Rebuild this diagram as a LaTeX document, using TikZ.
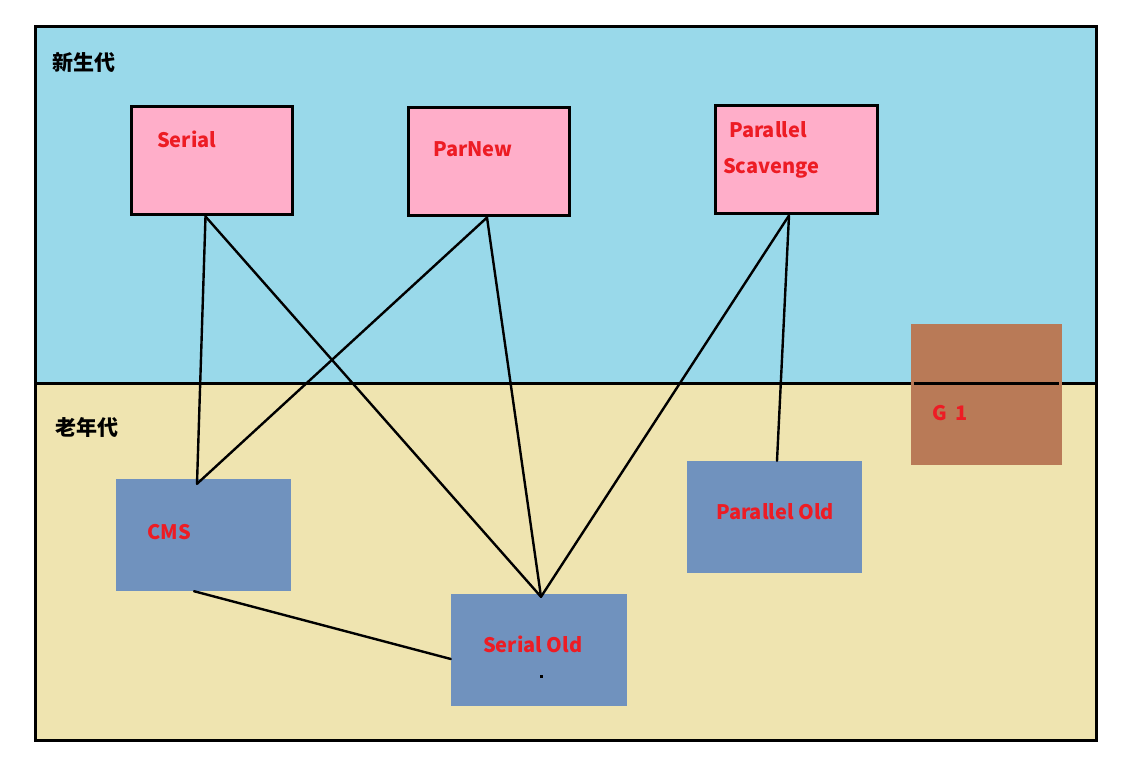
\documentclass[tikz,border=0pt]{standalone}
\usepackage{fontspec}
\newfontfamily\cjk{Noto Sans CJK SC}
\usetikzlibrary{calc}
\definecolor{younggen}{HTML}{99D9EA}
\definecolor{oldgen}{HTML}{EFE4B0}
\definecolor{youngpink}{HTML}{FFAEC9}
\definecolor{oldblue}{HTML}{7092BE}
\definecolor{gonebrown}{HTML}{B97A57}
\definecolor{gcred}{HTML}{ED1C24}
\tikzset{
  youngbox/.style={draw=black,line width=3pt,fill=youngpink,inner sep=0pt},
  oldbox/.style={fill=oldblue,inner sep=0pt},
  gclabel/.style={text=gcred,inner sep=0pt,anchor=base west,font=\cjk\bfseries\fontsize{20}{24}\selectfont},
  genlabel/.style={inner sep=0pt,anchor=base west,font=\cjk\bfseries\fontsize{21}{25}\selectfont},
  link/.style={line width=2.4pt,line cap=round}
}

\begin{document}
\begin{tikzpicture}[x=1pt,y=-1pt]
\useasboundingbox[fill=white] (0,0) rectangle (1127,767);
% generations
\fill[younggen] (35,27) rectangle (1096,383);
\fill[oldgen] (35,383) rectangle (1096,740);
\draw[line width=3pt] (35,27) rectangle (1096,740);
\draw[line width=3pt] (35,383) -- (1096,383);
\node[genlabel] (young) at (52,71) {新生代};
\node[genlabel] (old) at (55,435) {老年代};

% collectors
\node[youngbox,minimum width=161pt,minimum height=108pt] (serial) at (211.5,161) {};
\node[youngbox,minimum width=161pt,minimum height=108pt] (parnew) at (488.5,162) {};
\node[youngbox,minimum width=162pt,minimum height=108pt] (pscav) at (796,160) {};
\node[oldbox,minimum width=175pt,minimum height=112pt] (cms) at (203.5,535) {};
\node[oldbox,minimum width=176pt,minimum height=112pt] (serialold) at (539,650) {};
\node[oldbox,minimum width=175pt,minimum height=112pt] (parold) at (774.5,517) {};
\node[fill=gonebrown,inner sep=0pt,minimum width=151pt,minimum height=141pt] (gone) at (986.5,394.5) {};
\draw[line width=3pt] ($(gone.west)+(3,-11.5)$) -- ($(gone.east)+(-3,-11.5)$);

\node[gclabel] at (157,148) {Serial};
\node[gclabel] at (433,157) {ParNew};
\node[gclabel] at (729,138) {Parallel};
\node[gclabel] at (723,174) {Scavenge};
\node[gclabel] at (147,539) {CMS};
\node[gclabel] at (483,652) {Serial Old};
\node[gclabel] at (716,519) {Parallel Old};
\node[gclabel] at (932,420) {G\hspace{9pt}1};
\fill (540,675) rectangle (543,678);

% connectors
\coordinate (serial-s) at ($(serial.south)+(-6,0)$);
\coordinate (parnew-s) at ($(parnew.south)+(-1.5,0)$);
\coordinate (pscav-s) at ($(pscav.south)+(-7,0)$);
\coordinate (cms-n) at ($(cms.north)+(-6.5,5)$);
\coordinate (cms-s) at ($(cms.south)+(-9.5,0)$);
\coordinate (serialold-n) at ($(serialold.north)+(2,3)$);
\coordinate (serialold-w) at ($(serialold.west)+(0,9)$);
\coordinate (parold-n) at ($(parold.north)+(2.5,0)$);
\draw[link] (serial-s) -- (cms-n);
\draw[link] (serial-s) -- (serialold-n);
\draw[link] (parnew-s) -- (cms-n);
\draw[link] (parnew-s) -- (serialold-n);
\draw[link] (pscav-s) -- (serialold-n);
\draw[link] (pscav-s) -- (parold-n);
\draw[link] (cms-s) -- (serialold-w);
\end{tikzpicture}
\end{document}
